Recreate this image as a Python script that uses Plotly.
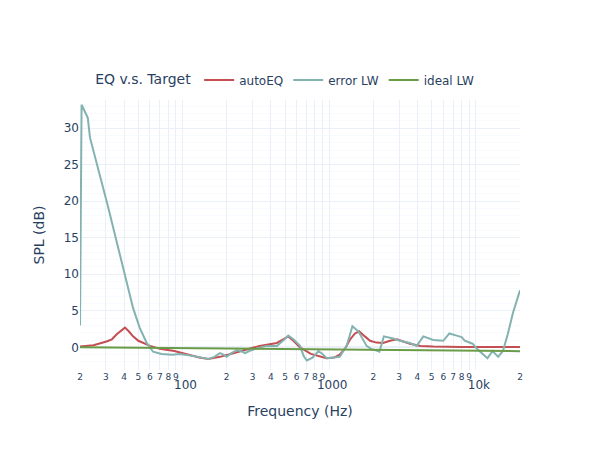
import plotly.graph_objects as go

# autoEQ
auto_f = [20, 24.7, 30.3, 33, 35.6, 38.5, 40.5, 43, 46, 50, 54, 60, 65, 70, 88, 107, 130, 150, 180, 222, 270, 335, 440, 490, 526, 570, 633, 750, 870, 960, 1080, 1180, 1290, 1390, 1500, 1600, 1750, 1900, 2100, 2330, 2600, 2900, 3200, 3550, 4200, 5130, 8000, 12000, 20000]
auto_db = [0.1, 0.3, 0.8, 1.1, 1.8, 2.4, 2.7, 2.2, 1.5, 0.9, 0.6, 0.2, 0.0, -0.2, -0.5, -1.0, -1.4, -1.6, -1.3, -0.8, -0.3, 0.2, 0.6, 1.1, 1.5, 0.9, 0.0, -0.9, -1.3, -1.5, -1.4, -1.0, -0.1, 1.1, 1.9, 2.2, 1.5, 0.9, 0.65, 0.6, 0.9, 1.1, 0.8, 0.5, 0.2, 0.1, 0.05, 0.05, 0.05]

# error LW
err_f = [20, 20.5, 22.6, 23.4, 31, 40.4, 43, 46, 51, 57, 63, 72, 85, 96, 120, 150, 165, 180, 190, 200, 215, 234, 250, 267, 285, 305, 340, 375, 440, 490, 526, 570, 633, 670, 704, 770, 844, 900, 961, 1080, 1180, 1316, 1440, 1580, 1700, 1800, 1960, 2080, 2200, 2360, 2730, 3030, 3550, 3950, 4380, 5130, 6000, 6600, 7400, 8000, 8400, 9000, 9500, 10300, 11000, 12000, 13000, 14200, 15300, 16500, 17900, 20000]
err_db = [3.0, 33.2, 31.4, 28.7, 19.3, 10.0, 7.6, 5.4, 2.7, 0.6, -0.6, -0.9, -1.0, -0.9, -1.2, -1.6, -1.3, -0.8, -1.0, -1.3, -0.8, -0.4, -0.5, -0.8, -0.5, -0.3, 0.0, 0.2, 0.2, 1.0, 1.6, 1.1, 0.2, -1.2, -1.8, -1.4, -0.5, -0.9, -1.5, -1.4, -1.3, 0.2, 2.9, 2.2, 1.0, 0.2, -0.3, -0.4, -0.6, 1.5, 1.2, 0.9, 0.6, 0.2, 1.5, 1.0, 0.9, 1.9, 1.6, 1.4, 0.9, 0.7, 0.5, -0.3, -0.8, -1.5, -0.5, -1.3, -0.5, 1.8, 4.7, 7.8]

# ideal LW
ideal_f = [20, 200, 2000, 20000]
ideal_db = [0.0, -0.17, -0.34, -0.52]

fig = go.Figure()
fig.add_trace(go.Scatter(x=auto_f, y=auto_db, mode="lines", name="autoEQ",
                         line=dict(color="#c44e52", width=2)))
fig.add_trace(go.Scatter(x=err_f, y=err_db, mode="lines", name="error LW",
                         line=dict(color="#84b2b0", width=2)))
fig.add_trace(go.Scatter(x=ideal_f, y=ideal_db, mode="lines", name="ideal LW",
                         line=dict(color="#6a9c48", width=2)))

fig.update_layout(
    template="plotly_white",
    width=600, height=450,
    font=dict(family="DejaVu Sans"),
    legend=dict(title=dict(text="EQ v.s. Target"), orientation="h",
                x=0.03, y=1.02, xanchor="left", yanchor="bottom"),
    xaxis=dict(type="log", title=dict(text="Frequency (Hz)"),
               range=[1.30103, 4.30103], dtick="D1"),
    yaxis=dict(title=dict(text="SPL (dB)"), range=[-3.1, 33.85],
               minor=dict(showgrid=True)),
)
fig.write_html("out.html")
